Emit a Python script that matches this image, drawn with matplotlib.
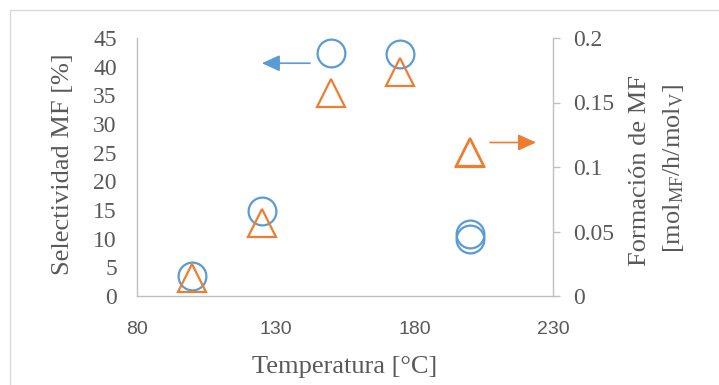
import matplotlib
matplotlib.use("Agg")
import matplotlib.pyplot as plt
from matplotlib.patches import Rectangle
from matplotlib.ticker import FuncFormatter

# datos
temperatura = [100, 125, 150, 175, 200, 200]
selectividad = [3.5, 14.8, 42.3, 42.2, 10.8, 9.9]
formacion = [0.014, 0.0564, 0.1576, 0.1733, 0.112, 0.1105]

x_ticks = [80, 130, 180, 230]
y1_ticks = [0, 5, 10, 15, 20, 25, 30, 35, 40, 45]
y2_ticks = [0, 0.05, 0.1, 0.15, 0.2]

azul = "#5B9BD5"
naranja = "#ED7D31"
gris_txt = "#595959"
gris_eje = "#BFBFBF"

plt.rcParams["font.family"] = ["Liberation Serif", "DejaVu Serif"]
plt.rcParams["mathtext.fontset"] = "custom"
plt.rcParams["mathtext.rm"] = "Liberation Serif"
plt.rcParams["mathtext.it"] = "Liberation Serif:italic"

W, H = 719, 385
fig = plt.figure(figsize=(W / 100, H / 100), dpi=100)
ax = fig.add_axes([137 / W, 1 - 296 / H, (553 - 137) / W, (296 - 38) / H])
ax2 = ax.twinx()

# marco del grafico
fig.patches.append(Rectangle((10 / W, -0.1), 1.2, 1 - 10 / H + 0.1, transform=fig.transFigure,
                             fill=False, edgecolor="#D9D9D9", lw=1))

ax.plot(temperatura, selectividad, ls="none", marker="o", ms=20, mfc="none",
        mec=azul, mew=1.6)
ax2.plot(temperatura, formacion, ls="none", marker="^", ms=20, mfc="none",
         mec=naranja, mew=1.6)

ax.set_xlim(80, 230)
ax.set_ylim(0, 45)
ax2.set_ylim(0, 0.2)
ax.set_xticks(x_ticks)
ax.set_yticks(y1_ticks)
ax2.set_yticks(y2_ticks)
ax2.yaxis.set_major_formatter(FuncFormatter(lambda v, p: "%g" % v))

for a in (ax, ax2):
    for s in a.spines.values():
        s.set_visible(False)
ax.spines["left"].set_visible(True)
ax.spines["bottom"].set_visible(True)
ax2.spines["right"].set_visible(True)
for s in (ax.spines["left"], ax.spines["bottom"], ax2.spines["right"]):
    s.set_color(gris_eje)
    s.set_linewidth(1)

ax.tick_params(axis="y", length=0, pad=14.5, labelsize=17, labelcolor=gris_txt)
ax.tick_params(axis="x", length=0, pad=18, labelsize=14, labelcolor=gris_txt)
for lbl in ax.get_xticklabels():
    lbl.set_family("Liberation Sans")
ax2.tick_params(axis="y", length=5, width=1, color=gris_eje, pad=9.5,
                labelsize=17, labelcolor=gris_txt)

# flechas indicando el eje de cada serie
ax.annotate("", xy=(125, 40.6), xytext=(142.4, 40.6),
            arrowprops=dict(arrowstyle="-|>,head_length=1.1,head_width=0.5",
                            mutation_scale=10, color=azul, lw=1.2,
                            shrinkA=0, shrinkB=0))
ax2.annotate("", xy=(223.9, 0.119), xytext=(207.3, 0.119),
             arrowprops=dict(arrowstyle="-|>,head_length=1.1,head_width=0.5",
                             mutation_scale=10, color=naranja, lw=1.2,
                             shrinkA=0, shrinkB=0))

fig.text(345 / W, 1 - 367 / H, "Temperatura [°C]", ha="center", va="center",
         fontsize=19, color=gris_txt)
fig.text(63 / W, 1 - 164 / H, "Selectividad MF [%]", ha="center", va="center",
         rotation=90, fontsize=19, color=gris_txt)
fig.text(640 / W, 1 - 170 / H, "Formación de MF", ha="center", va="center",
         rotation=90, fontsize=19, color=gris_txt)
fig.text(673 / W, 1 - 168 / H, r"[mol$_{\mathrm{MF}}$/h/mol$_{\mathrm{V}}$]",
         ha="center", va="center", rotation=90, fontsize=19, color=gris_txt)

fig.savefig("out.png", dpi=100)
